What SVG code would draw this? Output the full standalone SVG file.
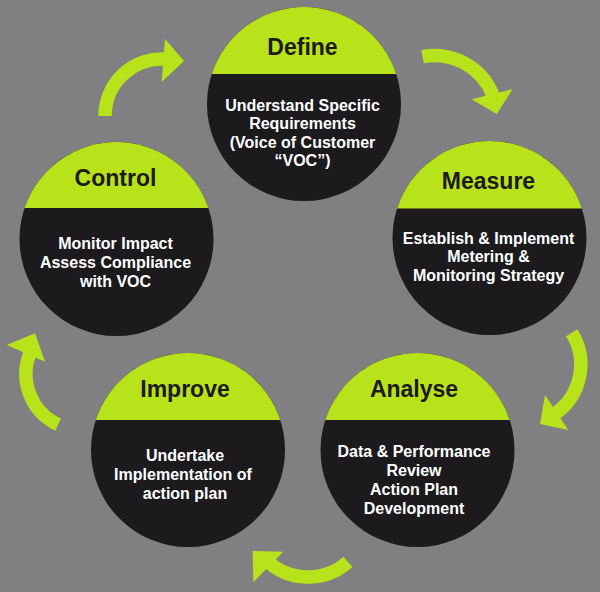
<svg xmlns="http://www.w3.org/2000/svg" width="600" height="592" viewBox="0 0 600 592">
<style>
.disc{fill:#1c1a1d}
.cap{fill:#b8e31b}
.title{font-family:"Liberation Sans",Arial,sans-serif;font-weight:bold;font-size:23px;fill:#1c1a1d;text-anchor:middle}
.body{font-family:"Liberation Sans",Arial,sans-serif;font-weight:bold;font-size:16px;fill:#ffffff;text-anchor:middle}
.shaft{fill:none;stroke:#b8e31b;stroke-width:13.5}
.head{fill:#b8e31b}
</style>
<rect width="600" height="592" fill="#807f82"/>
<g id="connectors">
  <g id="arrow-control-define">
    <path class="shaft" d="M105,116 A57,57 0 0 1 167,59.2"/>
    <polygon class="head" points="165,39 184,61 161.7,82"/>
  </g>
  <g id="arrow-define-measure">
    <path class="shaft" d="M422.6,56.6 A63,63 0 0 1 492.8,94.9"/>
    <polygon class="head" points="471.7,99.3 512.7,89 496.7,114"/>
  </g>
  <g id="arrow-measure-analyse">
    <path class="shaft" d="M571.7,332.8 A60,60 0 0 1 553.5,414.8"/>
    <polygon class="head" points="545,395 568.3,430 540,424"/>
  </g>
  <g id="arrow-analyse-improve">
    <path class="shaft" d="M347.9,561.9 A60,60 0 0 1 266.3,560.2"/>
    <polygon class="head" points="283.3,551.7 253.3,582.3 252.7,551"/>
  </g>
  <g id="arrow-improve-control">
    <path class="shaft" d="M58.1,424.6 A56,56 0 0 1 31.2,350.3"/>
    <polygon class="head" points="45,361.7 6.7,345 35,333.3"/>
  </g>
</g>
<g id="node-define">
  <circle class="disc" cx="304" cy="104" r="97"/>
  <path class="cap" d="M211.76,74 A97,97 0 0 1 396.24,74 Z"/>
  <text class="title" x="302.5" y="54.5">Define</text>
  <text class="body" x="302.5" y="110.5">Understand Specific</text>
  <text class="body" x="302.5" y="129">Requirements</text>
  <text class="body" x="302.5" y="147.5">(Voice of Customer</text>
  <text class="body" x="302.5" y="166">“VOC”)</text>
</g>
<g id="node-measure">
  <circle class="disc" cx="489.5" cy="238" r="97"/>
  <path class="cap" d="M397.1,208.5 A97,97 0 0 1 581.9,208.5 Z"/>
  <text class="title" x="488.5" y="189">Measure</text>
  <text class="body" x="488.5" y="243.5">Establish &amp; Implement</text>
  <text class="body" x="488.5" y="262">Metering &amp;</text>
  <text class="body" x="488.5" y="280.5">Monitoring Strategy</text>
</g>
<g id="node-control">
  <circle class="disc" cx="116.5" cy="239" r="97"/>
  <path class="cap" d="M24.6,208 A97,97 0 0 1 208.4,208 Z"/>
  <text class="title" x="115.5" y="186">Control</text>
  <text class="body" x="115.5" y="248.5">Monitor Impact</text>
  <text class="body" x="115.5" y="267.5">Assess Compliance</text>
  <text class="body" x="115.5" y="286.5">with VOC</text>
</g>
<g id="node-improve">
  <circle class="disc" cx="188" cy="450" r="97"/>
  <path class="cap" d="M95.76,420 A97,97 0 0 1 280.24,420 Z"/>
  <text class="title" x="185" y="397">Improve</text>
  <text class="body" x="185" y="461">Undertake</text>
  <text class="body" x="183" y="480">Implementation of</text>
  <text class="body" x="185" y="498.5">action plan</text>
</g>
<g id="node-analyse">
  <circle class="disc" cx="417.5" cy="450" r="97"/>
  <path class="cap" d="M325.26,420 A97,97 0 0 1 509.74,420 Z"/>
  <text class="title" x="414" y="397">Analyse</text>
  <text class="body" x="414" y="456.5">Data &amp; Performance</text>
  <text class="body" x="414" y="475.5">Review</text>
  <text class="body" x="414" y="494.5">Action Plan</text>
  <text class="body" x="414" y="513.5">Development</text>
</g>
</svg>
